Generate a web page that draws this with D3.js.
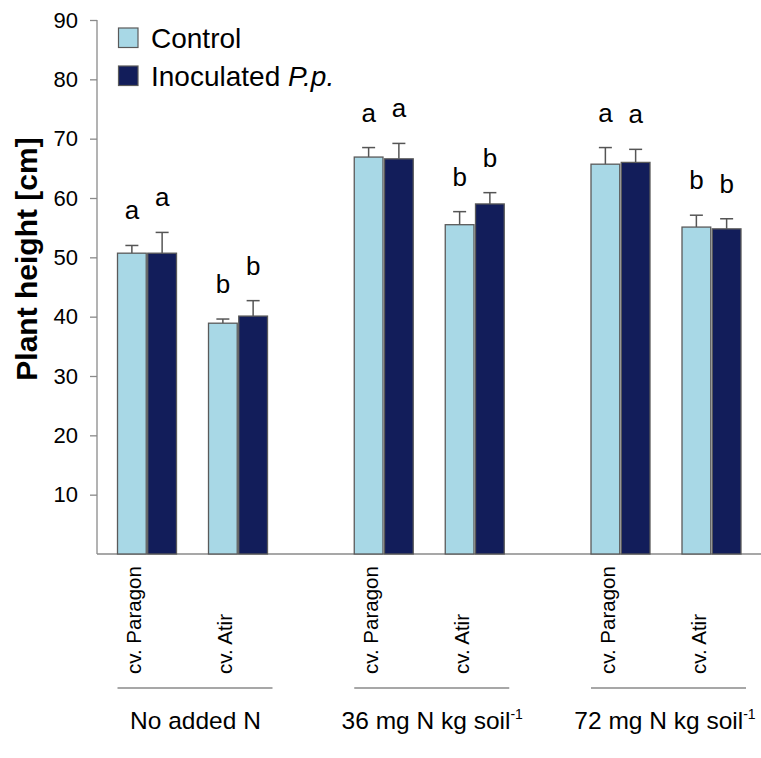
<!DOCTYPE html>
<html>
<head>
<meta charset="utf-8">
<script src="https://cdn.jsdelivr.net/npm/d3@7"></script>
<style>
  html, body { margin: 0; padding: 0; background: #fff; }
  svg { display: block; font-family: "Liberation Sans", Arial, sans-serif; }
</style>
</head>
<body>
<svg id="chart" width="761" height="758"></svg>
<script>
// Nitrogen treatments (group labels, with optional superscript)
const groups = ["No added N", "36 mg N kg soil", "72 mg N kg soil"];
const groupSup = ["", "-1", "-1"];
// Cultivars within each treatment
const cultivars = ["cv. Paragon", "cv. Atir"];
// Series
const series = ["Control", "Inoculated P.p."];
const seriesColors = ["#a8d8e6", "#121d5a"];

// Mean plant height [cm], ordered group by group, Paragon then Atir
const controlMean = [50.7, 38.9, 66.9, 55.5, 65.7, 55.1];
const controlSE   = [1.3, 0.7, 1.6, 2.2, 2.8, 2.0];
const inocMean    = [50.7, 40.1, 66.6, 59.0, 66.0, 54.8];
const inocSE      = [3.5, 2.6, 2.6, 1.9, 2.2, 1.7];
// Significance letters
const controlLetters = ["a", "b", "a", "b", "a", "b"];
const inocLetters    = ["a", "b", "a", "b", "a", "b"];

const yTicks = [10, 20, 30, 40, 50, 60, 70, 80, 90];

const svg = d3.select("#chart");
const axisColor = "#8a8a8a";

const y = d3.scaleLinear().domain([0, 90]).range([554, 20]);
const xGroup = d3.scalePoint().domain(groups).range([192.5, 666]);
const xCult = d3.scalePoint().domain(cultivars).range([-45.5, 45.5]);
const xSeries = d3.scaleBand().domain(series).range([-29.5, 29.5]).paddingInner(0.05);

// Flatten into records
const records = [];
groups.forEach((g, gi) => {
  cultivars.forEach((c, ci) => {
    const i = gi * cultivars.length + ci;
    records.push({ g, c, s: series[0], mean: controlMean[i], se: controlSE[i], letter: controlLetters[i], color: seriesColors[0] });
    records.push({ g, c, s: series[1], mean: inocMean[i], se: inocSE[i], letter: inocLetters[i], color: seriesColors[1] });
  });
});
const barX = d => xGroup(d.g) + xCult(d.c) + xSeries(d.s);
const barCX = d => barX(d) + xSeries.bandwidth() / 2;

// Y axis
const yAxis = d3.axisLeft(y).tickValues(yTicks).tickSize(7).tickPadding(12).tickFormat(d3.format("d"));
const yg = svg.append("g").attr("transform", "translate(97,0)").call(yAxis);
yg.select(".domain").attr("stroke", axisColor).attr("stroke-width", 1.3)
  .attr("d", `M0,${y(90)}V${y(0)}`);
yg.selectAll(".tick line").attr("stroke", axisColor).attr("stroke-width", 1.3);
yg.selectAll(".tick text").attr("font-size", 22).attr("fill", "#000")
  .attr("font-family", "Liberation Sans, Arial, sans-serif");

// Baseline
svg.append("line")
  .attr("x1", 97).attr("x2", 761).attr("y1", y(0)).attr("y2", y(0))
  .attr("stroke", axisColor).attr("stroke-width", 1.3);

// Y title
svg.append("text")
  .attr("transform", `translate(37,${(y(0) + y(90)) / 2 - 28}) rotate(-90)`)
  .attr("text-anchor", "middle")
  .attr("font-size", 30).attr("font-weight", "bold")
  .text("Plant height [cm]");

// Error bars (upper only)
const eb = svg.append("g").attr("stroke", "#555").attr("stroke-width", 1.5);
eb.selectAll("line.v").data(records).join("line")
  .attr("x1", barCX).attr("x2", barCX)
  .attr("y1", d => y(d.mean)).attr("y2", d => y(d.mean + d.se));
eb.selectAll("line.c").data(records).join("line")
  .attr("x1", d => barCX(d) - 6.5).attr("x2", d => barCX(d) + 6.5)
  .attr("y1", d => y(d.mean + d.se)).attr("y2", d => y(d.mean + d.se));

// Bars
svg.append("g").selectAll("rect").data(records).join("rect")
  .attr("x", barX)
  .attr("y", d => y(d.mean))
  .attr("width", xSeries.bandwidth())
  .attr("height", d => y(0) - y(d.mean))
  .attr("fill", d => d.color)
  .attr("stroke", "#5a5a5a").attr("stroke-width", 1.3);

// Significance letters
svg.append("g").selectAll("text").data(records).join("text")
  .attr("x", barCX)
  .attr("y", d => y(d.mean + d.se) - 26)
  .attr("text-anchor", "middle")
  .attr("font-size", 26)
  .text(d => d.letter);

// Cultivar labels (rotated)
groups.forEach(g => {
  cultivars.forEach(c => {
    const cx = xGroup(g) + xCult(c);
    svg.append("text")
      .attr("transform", `translate(${cx - 6},674) rotate(-90)`)
      .attr("text-anchor", "start")
      .attr("font-size", 20.5)
      .text(c);
  });
});

// Group separators and labels
groups.forEach((g, gi) => {
  const cx = xGroup(g);
  svg.append("line")
    .attr("x1", cx - 75).attr("x2", cx + 80).attr("y1", 688).attr("y2", 688)
    .attr("stroke", axisColor).attr("stroke-width", 1.3);
  const t = svg.append("text")
    .attr("x", gi === groups.length - 1 ? cx - 1 : cx + 3).attr("y", 729)
    .attr("text-anchor", "middle")
    .attr("font-size", 24.5);
  t.append("tspan").text(g);
  if (groupSup[gi]) {
    t.append("tspan").attr("font-size", 14).attr("dy", -10).text(groupSup[gi]);
  }
});

// Legend
const legend = svg.append("g");
series.forEach((s, i) => {
  const yy = 28 + i * 38;
  legend.append("rect")
    .attr("x", 118.5).attr("y", yy).attr("width", 19.5).attr("height", 19.5)
    .attr("fill", seriesColors[i]).attr("stroke", "#5a5a5a").attr("stroke-width", 1.2);
  const t = legend.append("text").attr("x", 151).attr("y", yy + 19.5).attr("font-size", 28);
  if (s === "Inoculated P.p.") {
    t.append("tspan").text("Inoculated ");
    t.append("tspan").attr("font-style", "italic").text("P.p.");
  } else {
    t.text(s);
  }
});
</script>
</body>
</html>
